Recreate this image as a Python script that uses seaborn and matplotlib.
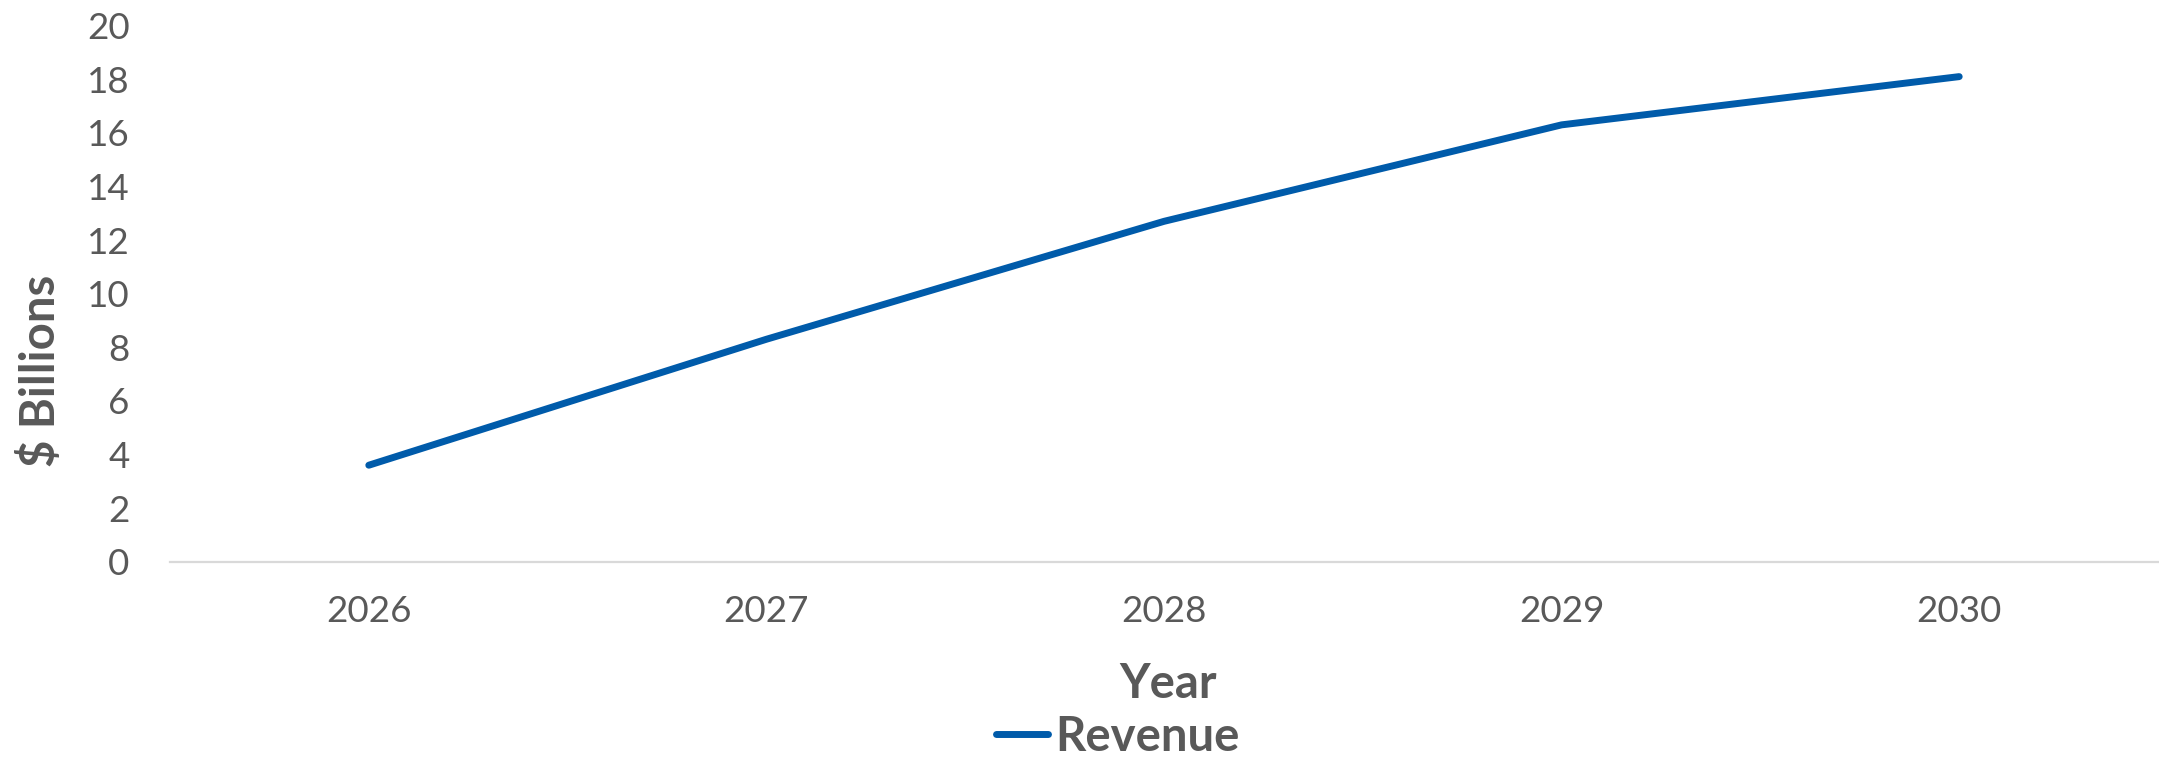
import matplotlib
matplotlib.use("Agg")
import matplotlib.pyplot as plt
import seaborn as sns
import pandas as pd
from matplotlib.lines import Line2D

# Revenue projection, $ billions
years = ["2026", "2027", "2028", "2029", "2030"]
revenue = [3.6, 8.3, 12.7, 16.3, 18.1]
y_ticks = [0, 2, 4, 6, 8, 10, 12, 14, 16, 18, 20]

LINE_BLUE = "#005BAA"
TEXT_GREY = "#595959"
AXIS_GREY = "#D9D9D9"

sns.set_theme(style="white")
plt.rcParams["font.family"] = ["Lato", "DejaVu Sans"]

df = pd.DataFrame({"Year": years, "Revenue": revenue})

W, H, DPI = 2159, 757, 100
fig = plt.figure(figsize=(W / DPI, H / DPI), dpi=DPI)
left, right = 170 / W, 2158 / W
bottom, top = 1 - 561.7 / H, 1 - 25.7 / H
ax = fig.add_axes([left, bottom, right - left, top - bottom])

sns.lineplot(data=df, x="Year", y="Revenue", ax=ax, color=LINE_BLUE,
             linewidth=5.0, solid_capstyle="round", solid_joinstyle="round",
             legend=False)

ax.set_xlim(-0.5, len(years) - 0.5)
ax.set_ylim(0, 20)
ax.set_yticks(y_ticks)
ax.set_yticklabels([str(t) for t in y_ticks])

for side in ["top", "right", "left"]:
    ax.spines[side].set_visible(False)
ax.spines["bottom"].set_color(AXIS_GREY)
ax.spines["bottom"].set_linewidth(1.6)

ax.tick_params(axis="x", length=0, pad=24, labelsize=26.5, labelcolor=TEXT_GREY)
ax.tick_params(axis="y", length=0, pad=29, labelsize=26.5, labelcolor=TEXT_GREY)

ax.set_xlabel("Year", fontsize=34, fontweight="bold", color=TEXT_GREY)
ax.xaxis.set_label_coords(0.502, -0.228)
ax.xaxis.label.set_va("center")

ax.set_ylabel("$ Billions", fontsize=34, fontweight="bold", color=TEXT_GREY)
ax.yaxis.set_label_coords(-0.0649, 0.356)
ax.yaxis.label.set_va("center")
ax.yaxis.label.set_ha("center")

handle = Line2D([0], [0], color=LINE_BLUE, linewidth=5.0, solid_capstyle="round")
leg = fig.legend([handle], ["Revenue"], loc="center",
                 bbox_to_anchor=(1118 / W, 1 - 737 / H), frameon=False,
                 prop={"size": 34, "weight": "bold"}, handlelength=1.1,
                 handletextpad=0.15, borderpad=0, borderaxespad=0)
for t in leg.get_texts():
    t.set_color(TEXT_GREY)

fig.savefig("out.png", dpi=DPI, facecolor="white")
